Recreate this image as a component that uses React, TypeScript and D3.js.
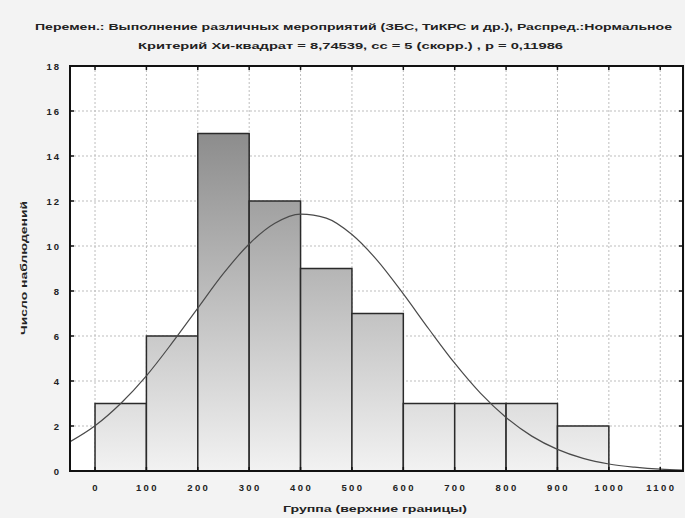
import React, { useEffect, useRef } from "react";
import { select, scaleLinear, line, curveMonotoneX } from "d3";

const titleLine1 =
  "Перемен.: Выполнение различных мероприятий (ЗБС, ТиКРС и др.), Распред.:Нормальное";
const titleLine2 = "Критерий Хи-квадрат = 8,74539, сс = 5 (скорр.) , p = 0,11986";
const xLabel = "Группа (верхние границы)";
const yLabel = "Число наблюдений";

// bins (lower edge, upper edge) and observed counts
const binLower = [0, 100, 200, 300, 400, 500, 600, 700, 800, 900];
const binUpper = [100, 200, 300, 400, 500, 600, 700, 800, 900, 1000];
const counts = [3, 6, 15, 12, 9, 7, 3, 3, 3, 2];

// fitted normal curve
const curveX = [-50, 0, 50, 100, 150, 200, 250, 300, 350, 400, 450, 500, 550, 600,
  650, 700, 750, 800, 850, 900, 950, 1000, 1050, 1100, 1150];
const curveY = [1.28, 2.01, 3.0, 4.23, 5.69, 7.24, 8.78, 10.09, 11.01, 11.42, 11.24,
  10.51, 9.34, 7.87, 6.3, 4.79, 3.46, 2.38, 1.55, 0.96, 0.56, 0.31, 0.17, 0.08, 0.04];

const xTicks = [0, 100, 200, 300, 400, 500, 600, 700, 800, 900, 1000, 1100];
const yTicks = [0, 2, 4, 6, 8, 10, 12, 14, 16, 18];

const W = 685;
const H = 518;
const left = 70;
const right = 683;
const top = 66;
const bottom = 471;

export default function App() {
  const ref = useRef<SVGSVGElement>(null);

  useEffect(() => {
    const svg = select(ref.current);
    svg.selectAll("*").remove();

    const x = scaleLinear().domain([-48.7, 1144.3]).range([left, right]);
    const y = scaleLinear().domain([0, 18]).range([bottom, top]);

    const defs = svg.append("defs");
    const grad = defs
      .append("linearGradient")
      .attr("id", "barGrad")
      .attr("gradientUnits", "userSpaceOnUse")
      .attr("x1", 0)
      .attr("x2", 0)
      .attr("y1", y(18))
      .attr("y2", y(0));
    grad.append("stop").attr("offset", 0).attr("stop-color", "#787878");
    grad.append("stop").attr("offset", 1).attr("stop-color", "#f2f2f2");
    defs
      .append("clipPath")
      .attr("id", "plotClip")
      .append("rect")
      .attr("x", left)
      .attr("y", top)
      .attr("width", right - left)
      .attr("height", bottom - top);

    // page background
    svg.append("rect").attr("width", W).attr("height", H).attr("fill", "#f3f3f3");
    svg
      .append("rect")
      .attr("x", left)
      .attr("y", top)
      .attr("width", right - left)
      .attr("height", bottom - top)
      .attr("fill", "#ffffff");

    // grid
    const grid = svg.append("g").attr("stroke", "#bdbdbd").attr("stroke-dasharray", "2,2");
    grid
      .selectAll("line.v")
      .data(xTicks)
      .enter()
      .append("line")
      .attr("x1", (d) => x(d))
      .attr("x2", (d) => x(d))
      .attr("y1", top)
      .attr("y2", bottom);
    grid
      .selectAll("line.h")
      .data(yTicks.slice(1, -1))
      .enter()
      .append("line")
      .attr("x1", left)
      .attr("x2", right)
      .attr("y1", (d) => y(d))
      .attr("y2", (d) => y(d));

    // bars
    svg
      .append("g")
      .selectAll("rect")
      .data(counts)
      .enter()
      .append("rect")
      .attr("x", (d, i) => x(binLower[i]))
      .attr("y", (d) => y(d))
      .attr("width", (d, i) => x(binUpper[i]) - x(binLower[i]))
      .attr("height", (d) => y(0) - y(d))
      .attr("fill", "url(#barGrad)")
      .attr("stroke", "#2a2a2a")
      .attr("stroke-width", 1.5);

    // normal curve
    const pts = curveX.map((v, i) => [v, curveY[i]] as [number, number]);
    svg
      .append("path")
      .attr("clip-path", "url(#plotClip)")
      .attr("d", line<[number, number]>().x((d) => x(d[0])).y((d) => y(d[1])).curve(curveMonotoneX)(pts))
      .attr("fill", "none")
      .attr("stroke", "#4a4a4a")
      .attr("stroke-width", 1.2);

    // frame and inner ticks
    svg
      .append("rect")
      .attr("x", left)
      .attr("y", top)
      .attr("width", right - left)
      .attr("height", bottom - top)
      .attr("fill", "none")
      .attr("stroke", "#111")
      .attr("stroke-width", 2);
    const ticks = svg.append("g").attr("stroke", "#111").attr("stroke-width", 1.5);
    xTicks.forEach((t) => {
      ticks.append("line").attr("x1", x(t)).attr("x2", x(t)).attr("y1", bottom).attr("y2", bottom - 4);
      ticks.append("line").attr("x1", x(t)).attr("x2", x(t)).attr("y1", top).attr("y2", top + 4);
    });
    yTicks.forEach((t) => {
      ticks.append("line").attr("x1", left).attr("x2", left + 4).attr("y1", y(t)).attr("y2", y(t));
      ticks.append("line").attr("x1", right).attr("x2", right - 4).attr("y1", y(t)).attr("y2", y(t));
    });

    const font = "'Liberation Sans', Arial, sans-serif";
    const txt = svg
      .append("g")
      .attr("font-family", font)
      .attr("font-weight", "bold")
      .attr("fill", "#222");

    // tick labels
    txt
      .selectAll("text.yt")
      .data(yTicks)
      .enter()
      .append("text")
      .attr("x", 61)
      .attr("y", (d) => y(d) + 3.5)
      .attr("text-anchor", "end")
      .attr("font-size", 9.5)
      .attr("letter-spacing", 2)
      .text((d) => d);
    txt
      .selectAll("text.xt")
      .data(xTicks)
      .enter()
      .append("text")
      .attr("x", (d) => x(d) + 1)
      .attr("y", 491)
      .attr("text-anchor", "middle")
      .attr("font-size", 9.5)
      .attr("letter-spacing", 2.4)
      .text((d) => d);

    // titles
    txt
      .append("text")
      .attr("x", 35)
      .attr("y", 30)
      .attr("font-size", 9.5)
      .attr("textLength", 637)
      .attr("lengthAdjust", "spacingAndGlyphs")
      .text(titleLine1);
    txt
      .append("text")
      .attr("x", 138)
      .attr("y", 49)
      .attr("font-size", 9.5)
      .attr("textLength", 425)
      .attr("lengthAdjust", "spacingAndGlyphs")
      .text(titleLine2);
    txt
      .append("text")
      .attr("x", 283)
      .attr("y", 512)
      .attr("font-size", 9.5)
      .attr("textLength", 184)
      .attr("lengthAdjust", "spacingAndGlyphs")
      .text(xLabel);
    txt
      .append("text")
      .attr("transform", `translate(27, ${268 + 67}) rotate(-90)`)
      .attr("font-size", 9.5)
      .attr("textLength", 134)
      .attr("lengthAdjust", "spacingAndGlyphs")
      .text(yLabel);
  }, []);

  return (
    <svg
      ref={ref}
      width={W}
      height={H}
      style={{ position: "absolute", left: 0, top: 0, display: "block" }}
    />
  );
}
